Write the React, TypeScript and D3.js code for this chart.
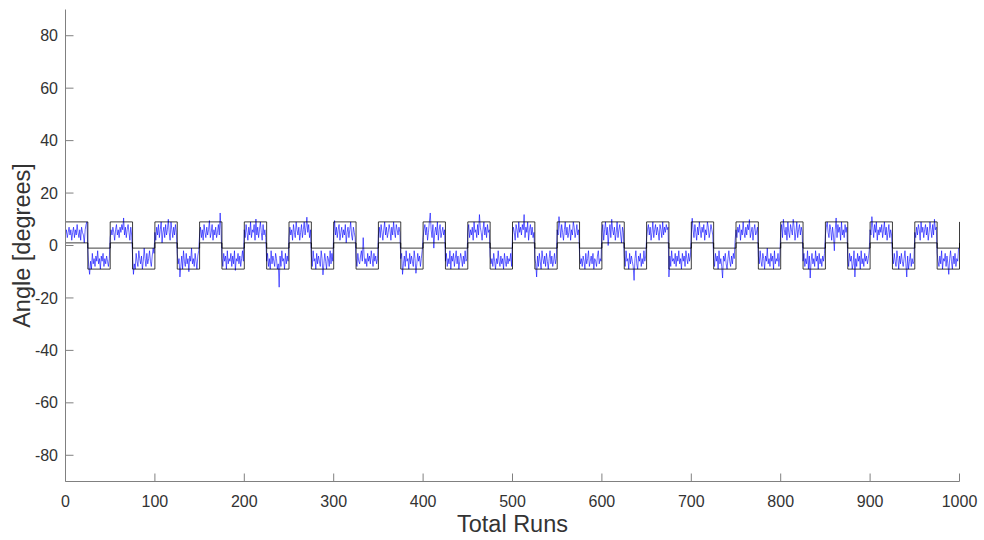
import React from "react";
import * as d3 from "d3";

const xTicks = [0, 100, 200, 300, 400, 500, 600, 700, 800, 900, 1000];
const yTicks = [-80, -60, -40, -20, 0, 20, 40, 60, 80];

// step change times of the reference band
const stepRuns = [0, 25, 50, 75, 100, 125, 150, 175, 200, 225, 250, 275, 300, 325, 350, 375, 400, 425, 450, 475, 500,
  525, 550, 575, 600, 625, 650, 675, 700, 725, 750, 775, 800, 825, 850, 875, 900, 925, 950, 975, 1000];
const upperBound = [9, -1, 9, -1, 9, -1, 9, -1, 9, -1, 9, -1, 9, -1, 9, -1, 9, -1, 9, -1, 9,
  -1, 9, -1, 9, -1, 9, -1, 9, -1, 9, -1, 9, -1, 9, -1, 9, -1, 9, -1, 9];
const lowerBound = [1, -9, 1, -9, 1, -9, 1, -9, 1, -9, 1, -9, 1, -9, 1, -9, 1, -9, 1, -9, 1,
  -9, 1, -9, 1, -9, 1, -9, 1, -9, 1, -9, 1, -9, 1, -9, 1, -9, 1, -9, 1];

// measured angle per run (0..999)
const measuredAngle = [
  4,6,3,5,7,4,6,2,5,7,3,6,4,8,5,3,6,2,7,5,4,1,6,8,9,
  -2,-8,-11,-6,-9,-3,-7,-5,-8,-4,-6,-2,-7,-5,-9,-4,-6,-3,-8,-5,-7,-4,-6,-8,-5,
  3,6,4,7,5,2,6,8,4,6,3,7,5,8,6,10.5,4,7,3,6,8,5,2,7,4,
  -4,-11,-7,-9,-3,-6,-8,-2,-5,-7,-4,-9,-6,-1,-5,-8,-3,-7,-5,-2,-6,-8,-4,-1,-3,
  5,2,7,4,8,3,6,9,1,5,7,3,8,4,6,10,5,2,9,6,3,7,4,8,5,
  -3,-7,-5,-12,-8,-4,-9,-2,-6,-8,-3,-7,-5,-10,-4,-6,-1,-7,-5,-8,-3,-6,-9,-4,-2,
  4,7,3,6,2,8,5,3,7,4,6,9.5,3,5,8,2,6,4,7,3,5,8,4,12.4,6,
  -5,-8,-3,-6,-4,-9,-2,-7,-5,-6,-3,-8,-4,-7,-2,-9.5,-5,-6,-3,-7,-4,-8,-5,-2,-6,
  6,3,8,5,2,7,4,9,3,6,5,8,2,10.1,4,7,3,6,9,5,2,8,4,6,3,
  -6,-3,-8,-5,-9,-2,-7,-4,-6,-8,-3,-5,-9,-7,-15.9,-4,-8,-2,-6,-5,-9,-3,-7,-4,-6,
  3,7,4,6,2,8,5,3,9,6,4,7,2,5,8,3,6,9,4,7,10.8,5,8,3,6,
  -4,-8,-2,-6,-5,-9,-3,-7,-4,-6,-8,-2,-5,-11.2,-7,-3,-6,-9,-4,-5,-8,-2,-7,-3,-6,
  5,9.5,4,7,3,6,8,2,5,7,3,6,4,8,1,5,7,3,6,9,4,2,7,5,3,
  -5,-8,-3,-6,-7,-4,-2,-6,3,-4,-7,-5,-8,-3,-6,-4,-7,-2,-5,-8,-3,-6,-4,-7,-5,
  4,7,3,8,5,2,6,9,4,7,3,5,8,6,2,7,4,9,5,3,8,6,4,7,5,
  -5,-3,-11,-7,-4,-8,-2,-6,-5,-9,-3,-7,-4,-6,-8,-2,-5,-10.6,-7,-3,-6,-4,-8,-5,-2,
  3,6,8,4,7,2,5,9,12.4,6,3,8,-1,5,7,4,9,2,6,8,3,5,7,4,6,
  -6,-3,-8,-5,-7,-2,-9,-4,-6,-3,-8,-5,-2,-7,-4,-9,-6,-3,-5,-8,-4,-7,-2,-6,-5,
  5,8,3,6,4,7,2,9,5,6,3,8,4,11.8,7,5,2,6,9,4,7,3,8,5,6,
  -4,-7,-5,-8,-3,-6,-9,-5,-7,-2,-6,-8,-4,-7,-5,-9,-3,-6,-8,-4,-7,-5,-6,-3,-8,
  4,7,5,2,8,6,3,9,5,7,4,8,6,11.8,3,7,5,9,2,6,8,4,7,3,5,
  -5,-7,-12,-4,-8,-3,-6,-9,-2,-5,-7,-4,-8,-3,-6,-9,-5,-2,-7,-4,-8,-6,-3,-7,-5,
  6,4,11,7,3,8,5,2,6,9,4,7,3,5,8,2,6,4,9,7,3,5,8,4,6,
  -3,-7,-5,-8,-4,-6,-9,-3,-7,-5,-2,-8,-6,-4,-7,-3,-9,-5,-6,-8,-4,-2,-7,-5,-6,
  5,8,2,6,9,4,7,0,5,8,3,10,6,4,7,2,5,9,3,6,8,4,1,7,5,
  -4,-8,-2,-6,-5,-9,-3,-7,-4,-6,-8,-13.3,-5,-2,-7,-9,-4,-6,-3,-8,-5,-7,-2,-6,-4,
  3,6,8,4,7,2,5,9,3,6,8,4,7,5,2,8,6,3,9,4,7,5,8,6,7,
  -12,-4,-8,-2,-6,-5,-7,-3,-8,-4,-6,-2,-7,-5,-9,-3,-6,-4,-8,-2,-5,-7,-3,-6,-4,
  4,10.4,6,3,8,5,2,7,4,9,6,3,7,5,8,2,6,4,9,7,3,5,8,6,4,
  -5,-8,-3,-6,-4,-9,-2,-7,-5,-8,-12.4,-4,-6,-3,-7,-9,-5,-2,-6,-8,-4,-7,-3,-5,2,
  6,3,7,5,8,2,6,4,9,5,3,7,4,8,6,9.9,3,5,7,2,6,8,4,5,7,
  -4,-7,-2,-6,-8,-3,-5,-9,-4,-6,-1,-7,-5,-8,-3,-6,-4,-9,-2,-7,-5,-6,-3,-8,-4,
  5,8,3,10,6,4,7,2,9,5,3,8,6,4,10,7,2,5,9,3,6,8,4,7,5,
  -6,-3,-8,-5,-7,-2,-9,-4,-12.4,-6,-3,-7,-5,-8,-2,-6,-4,-9,-3,-7,-5,-8,-4,-6,-3,
  4,7,9,5,3,8,6,2,7,4,-2,6,10.5,3,8,5,7,2,9,4,6,3,8,5,7,
  -5,-8,-3,-6,-4,-9,-7,-2,-12,-5,-8,-3,-6,-4,-9,-2,-7,-5,-8,-3,-6,-4,-7,-5,-2,
  6,4,11,7,3,8,5,9,2,6,4,7,5,8,3,6,9,4,7,2,5,8,3,6,4,
  -4,-7,-3,-6,-8,-2,-5,-9,-4,-7,-3,-6,-8,-5,-2,-7,-12,-4,-9,-6,-3,-8,-5,-7,-6,
  5,3,7,4,8,6,2,9,5,7,3,6,8,4,7,2,5,9,6,3,8,4,10,6,7,
  -3,-6,-8,-4,-7,-2,-9,-5,-6,-3,-8,-4,-7,-11,-5,-2,-6,-9,-4,-7,-3,-8,-5,-6,-1,
];

const W = 984;
const H = 540;
const left = 65.5;
const right = 959.5;
const top = 9.5;
const bottom = 481.5;

export default function App() {
  const x = d3.scaleLinear().domain([0, 1000]).range([left, right]);
  const y = d3.scaleLinear().domain([-90, 90]).range([bottom, top]);

  const upperPath =
    d3
      .line<number>()
      .x((_, i) => x(stepRuns[i]))
      .y((v) => y(v))
      .curve(d3.curveStepAfter)(upperBound) || "";
  const lowerPath =
    d3
      .line<number>()
      .x((_, i) => x(stepRuns[i]))
      .y((v) => y(v))
      .curve(d3.curveStepAfter)(lowerBound) || "";

  const bluePath =
    d3
      .line<number>()
      .x((_, i) => x(i))
      .y((v) => y(v))(measuredAngle) || "";

  const axisColor = "#808080";
  const textColor = "#333333";
  const font = "'Liberation Sans', Arial, Helvetica, sans-serif";
  const tickLen = 8;

  return (
    <svg
      width={W}
      height={H}
      style={{ position: "absolute", left: 0, top: 0, background: "#fff" }}
      fontFamily={font}
    >
      <rect x={0} y={0} width={W} height={H} fill="#fff" />
      <path d={bluePath} fill="none" stroke="#0000ff" strokeWidth={0.6} />
      <path d={upperPath} fill="none" stroke="#000" strokeWidth={0.9} strokeOpacity={0.85} />
      <path d={lowerPath} fill="none" stroke="#000" strokeWidth={0.9} strokeOpacity={0.85} />

      {/* axes */}
      <line x1={left} x2={left} y1={top} y2={bottom} stroke={axisColor} strokeWidth={1} />
      <line x1={left} x2={right} y1={bottom} y2={bottom} stroke={axisColor} strokeWidth={1} />

      {xTicks.map((t) => (
        <g key={"x" + t}>
          <line x1={x(t)} x2={x(t)} y1={bottom} y2={bottom - tickLen} stroke={axisColor} strokeWidth={1} />
          <text x={x(t)} y={507} fontSize={16} textAnchor="middle" fill={textColor}>
            {t}
          </text>
        </g>
      ))}
      {yTicks.map((t) => (
        <g key={"y" + t}>
          <line x1={left} x2={left + tickLen} y1={y(t)} y2={y(t)} stroke={axisColor} strokeWidth={1} />
          <text x={58} y={y(t)} dy="0.35em" fontSize={16} textAnchor="end" fill={textColor}>
            {t}
          </text>
        </g>
      ))}

      <text x={(left + right) / 2} y={532} fontSize={23.5} textAnchor="middle" fill={textColor}>
        Total Runs
      </text>
      <text
        transform={`translate(30, ${(top + bottom) / 2}) rotate(-90)`}
        fontSize={23.5}
        textAnchor="middle"
        fill={textColor}
      >
        Angle [degrees]
      </text>
    </svg>
  );
}
